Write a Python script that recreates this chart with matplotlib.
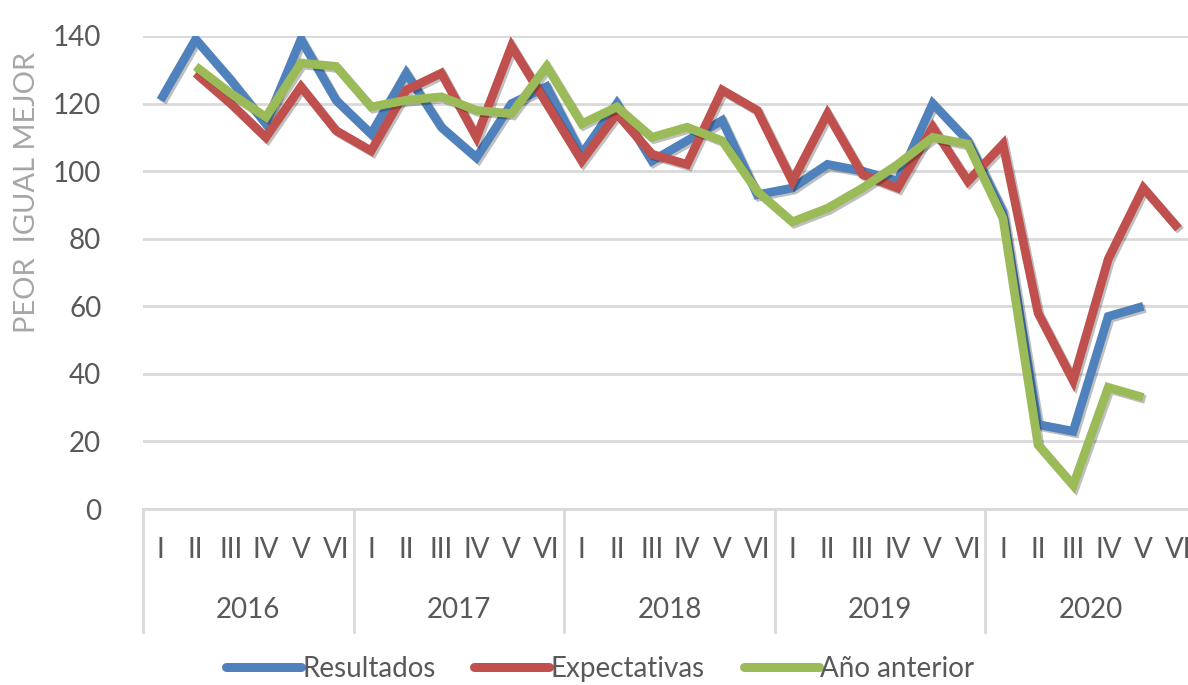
import numpy as np
import matplotlib
matplotlib.use('Agg')
import matplotlib.pyplot as plt
import matplotlib.patheffects as pe
from matplotlib.transforms import blended_transform_factory

plt.rcParams['font.family'] = ['Lato', 'DejaVu Sans']

years = ['2016', '2017', '2018', '2019', '2020']
bimestres = ['I', 'II', 'III', 'IV', 'V', 'VI']

nan = np.nan
resultados = [121, 139, 127, 114, 139, 121,
              111, 129, 113, 104, 120, 125,
              105, 120, 103, 109, 115, 93,
              95, 102, 100, 97, 120, 109,
              88, 25, 23, 57, 60, nan]
expectativas = [nan, 129, 120, 110, 125, 112,
                106, 124, 129, 110, 137, 120,
                103, 117, 105, 102, 124, 118,
                97, 117, 99, 95, 113, 97,
                108, 58, 38, 74, 95, 83]
anio_anterior = [nan, 131, 123, 116, 132, 131,
                 119, 121, 122, 118, 117, 131,
                 114, 119, 110, 113, 109, 94,
                 85, 89, 95, 102, 110, 108,
                 86, 19, 7, 36, 33, nan]

colors = ['#4F81BD', '#C0504D', '#9BBB59']
text_col = '#595959'
grid_col = '#D9D9D9'

fig = plt.figure(figsize=(11.88, 6.85), dpi=100)
ax = fig.add_axes([143 / 1188, 176 / 685, 1053 / 1188, 473 / 685])

x = np.arange(len(resultados))
shadow = [pe.SimpleLineShadow(offset=(1.5, -1.5), shadow_color='black', alpha=0.25), pe.Normal()]
for vals, c, lab in zip([resultados, expectativas, anio_anterior], colors,
                        ['Resultados', 'Expectativas', 'Año anterior']):
    ax.plot(x, vals, color=c, lw=6.3, label=lab, solid_joinstyle='miter',
            solid_capstyle='butt', path_effects=shadow)

ax.set_xlim(-0.5, len(x) - 0.5)
ax.set_ylim(0, 140)
ax.set_yticks(range(0, 141, 20))
ax.yaxis.grid(True, color=grid_col, lw=2)
ax.set_axisbelow(True)
for s in ['top', 'right', 'left']:
    ax.spines[s].set_visible(False)
ax.spines['bottom'].set_color(grid_col)
ax.spines['bottom'].set_linewidth(2)
ax.tick_params(axis='y', length=0, labelsize=20, labelcolor=text_col, pad=30)
ax.set_xticks([])
ax.set_ylabel('PEOR  IGUAL MEJOR', fontsize=21, color='#A6A6A6')
ax.yaxis.set_label_coords(-0.098, 0.67)

# multi-level category axis
trans = blended_transform_factory(ax.transData, ax.transAxes)
for k in range(len(years) + 1):
    ax.plot([k * 6 - 0.5] * 2, [0, -0.26], transform=trans, color=grid_col,
            lw=2, clip_on=False)
for i in x:
    ax.text(i, -0.087, bimestres[i % 6], transform=trans, ha='center', va='center',
            fontsize=20, color=text_col)
for k, y in enumerate(years):
    ax.text(k * 6 + 2.5, -0.213, y, transform=trans, ha='center', va='center',
            fontsize=20, color=text_col)

leg = fig.legend(loc='lower center', bbox_to_anchor=(0.505, -0.032), ncol=3, frameon=False,
                 fontsize=20, handlelength=2.7, handletextpad=0.05, columnspacing=1.4)
for t in leg.get_texts():
    t.set_color(text_col)
for h in leg.legend_handles:
    h.set_linewidth(6.5)
    h.set_solid_capstyle('round')
    h.set_path_effects([])

fig.savefig('out.png', dpi=100)
